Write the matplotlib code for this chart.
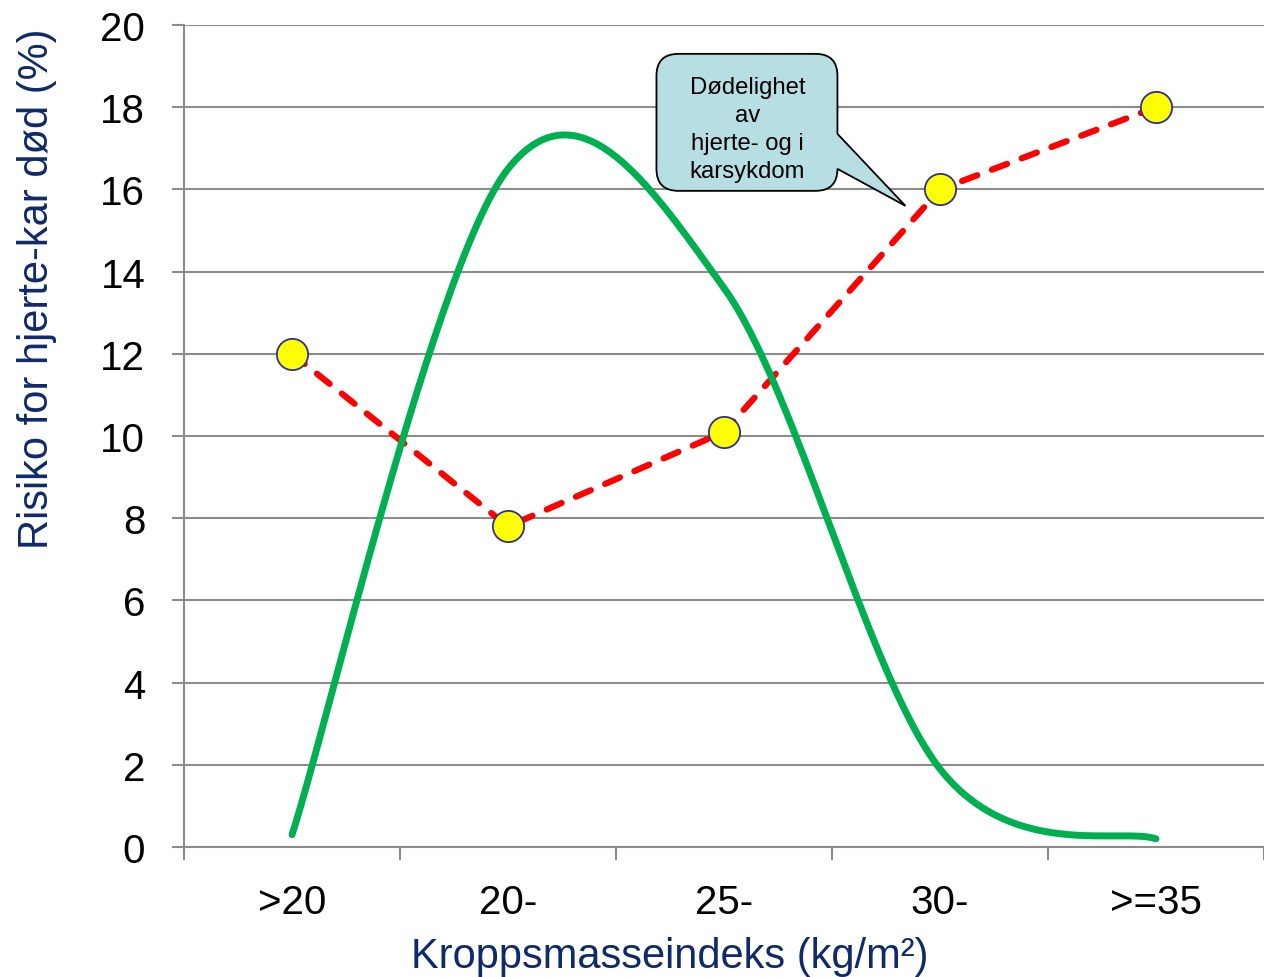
import numpy as np
import matplotlib.pyplot as plt
from matplotlib.path import Path
from matplotlib.patches import PathPatch
import matplotlib.transforms as mtransforms

plt.rcParams['font.family'] = ['Liberation Sans', 'DejaVu Sans']

# BMI-grupper og verdier
kategorier = ['>20', '20-', '25-', '30-', '>=35']
risiko = [12, 7.8, 10.1, 16, 18]            # risiko for hjerte-kar død (%)
fordeling = [0.3, 16.5, 13.6, 1.9, 0.2]     # fordelingskurve (glattet)

navy = '#0f2a6b'
grid_col = '#8c8c8c'


def glatt_kurve(x, y, n=60):
    # Catmull-Rom-lignende Bezier-glatting (som glattede linjer i regneark)
    x = np.asarray(x, float)
    y = np.asarray(y, float)
    px = np.concatenate([[x[0]], x, [x[-1]]])
    py = np.concatenate([[y[0]], y, [y[-1]]])
    xs, ys = [], []
    t = np.linspace(0, 1, n)
    for i in range(1, len(px) - 2):
        p0 = np.array([px[i], py[i]])
        p3 = np.array([px[i + 1], py[i + 1]])
        c1 = p0 + (np.array([px[i + 1], py[i + 1]]) - np.array([px[i - 1], py[i - 1]])) / 6
        c2 = p3 - (np.array([px[i + 2], py[i + 2]]) - np.array([px[i], py[i]])) / 6
        b = ((1 - t) ** 3)[:, None] * p0 + (3 * (1 - t) ** 2 * t)[:, None] * c1 \
            + (3 * (1 - t) * t ** 2)[:, None] * c2 + (t ** 3)[:, None] * p3
        xs.extend(b[:, 0])
        ys.extend(b[:, 1])
    return np.array(xs), np.array(ys)


fig = plt.figure(figsize=(12.64, 9.78), dpi=100)
ax = fig.add_axes([0.1456, 0.1329, 0.8544, 0.8405])

x = np.arange(len(kategorier))

# rød stiplet linje
ax.plot(x, risiko, color='#ff0000', lw=4.5, linestyle=(0, (2.6, 2.5)),
        dash_capstyle='round', zorder=3)

# grønn glattet kurve
gx, gy = glatt_kurve(x, fordeling)
ax.plot(gx, gy, color='#00b050', lw=5, solid_capstyle='round', zorder=4)

# gule markører
ax.plot(x, risiko, linestyle='none', marker='o', markersize=22.5,
        markerfacecolor='#ffff00', markeredgecolor='#2e3192',
        markeredgewidth=1.3, zorder=5)

ax.set_xlim(-0.5, 4.5)
ax.set_ylim(0, 20)
ax.set_yticks(np.arange(0, 21, 2))
ax.set_xticks(np.arange(-0.5, 4.6, 1))
ax.set_xticklabels([])
ax.set_xticks(x, minor=True)
ax.set_xticklabels(kategorier, minor=True)

ax.tick_params(axis='y', direction='out', length=9, width=1.5, color=grid_col,
               labelsize=29, pad=19)
ax.tick_params(axis='x', which='major', direction='out', length=9, width=1.5,
               color=grid_col)
ax.tick_params(axis='x', which='minor', length=0, labelsize=29, pad=26)

ax.grid(axis='y', color=grid_col, lw=1.5)
ax.set_axisbelow(True)
for s in ['top', 'right']:
    ax.spines[s].set_visible(False)
for s in ['left', 'bottom']:
    ax.spines[s].set_color(grid_col)
    ax.spines[s].set_linewidth(1.5)

ax.set_ylabel('Risiko for hjerte-kar død (%)', fontsize=30, color=navy,
              labelpad=31, y=0.68)
ax.set_xlabel('Kroppsmasseindeks (kg/m²)', fontsize=30, color=navy,
              labelpad=11, x=0.45)

# snakkeboble, mål i piksler relativt til spissen
tip = (2.84, 15.6)
trans = (mtransforms.Affine2D().scale(1 / fig.dpi) + fig.dpi_scale_trans
         + mtransforms.ScaledTranslation(tip[0], tip[1], ax.transData))
L, R, B, T, r = -249, -68, 15, 152, 22
verts = [
    (L + r, B), (R - r, B), (R, B), (R, B + r), (R, 37), (0, 0), (R, 72),
    (R, T - r), (R, T), (R - r, T), (L + r, T), (L, T), (L, T - r),
    (L, B + r), (L, B), (L + r, B), (L + r, B),
]
codes = [
    Path.MOVETO, Path.LINETO, Path.CURVE3, Path.CURVE3, Path.LINETO, Path.LINETO,
    Path.LINETO, Path.LINETO, Path.CURVE3, Path.CURVE3, Path.LINETO, Path.CURVE3,
    Path.CURVE3, Path.LINETO, Path.CURVE3, Path.CURVE3, Path.CLOSEPOLY,
]
boble = PathPatch(Path(verts, codes), facecolor='#b7dee2', edgecolor='black',
                  lw=1.3, transform=trans, zorder=6, clip_on=False)
ax.add_patch(boble)
ax.text(-158, 77, 'Dødelighet\nav\nhjerte- og i\nkarsykdom', transform=trans,
        ha='center', va='center', fontsize=17.2, linespacing=1.36, zorder=7)

fig.savefig('out.png', dpi=100)
